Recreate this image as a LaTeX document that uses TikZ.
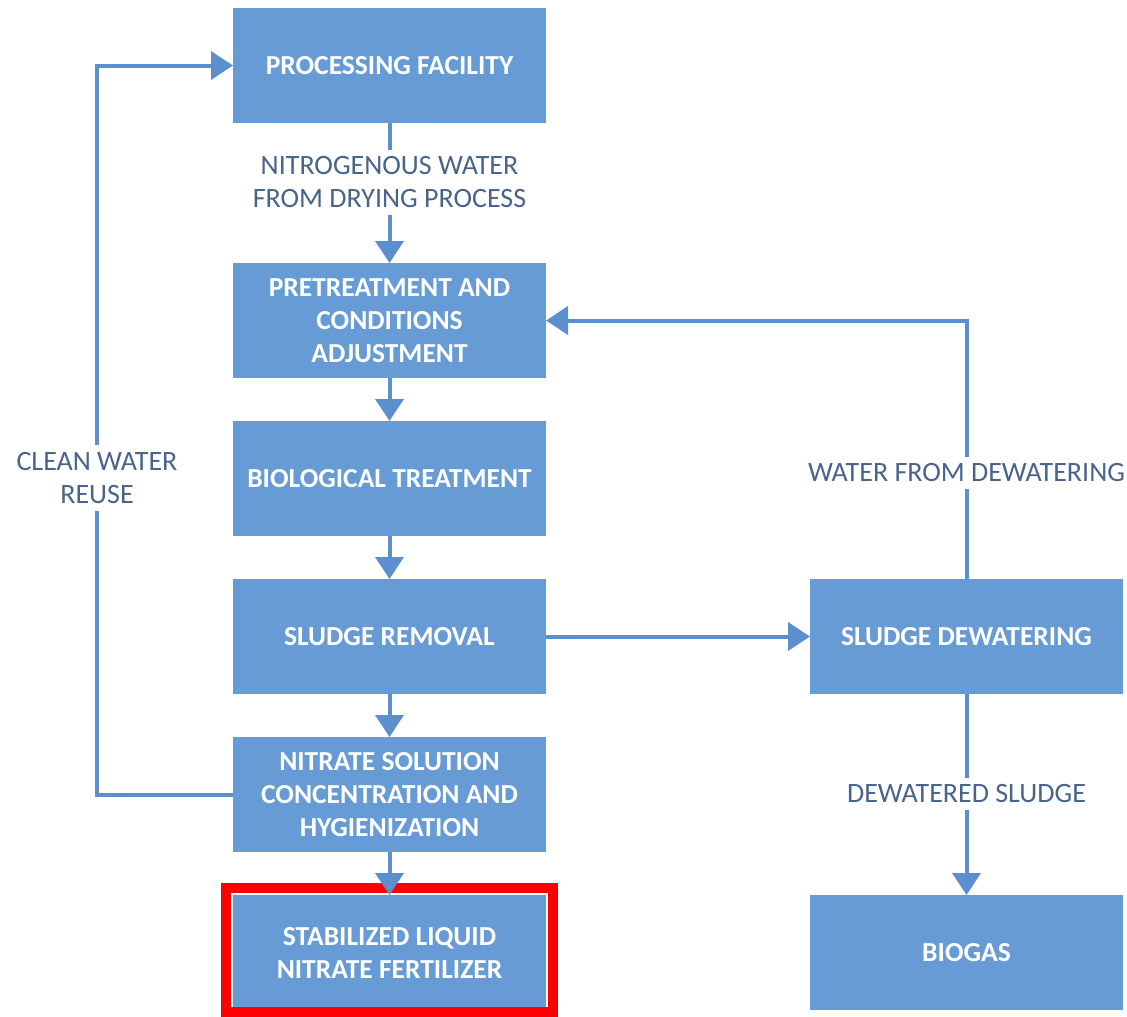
\documentclass[tikz,border=0pt]{standalone}
\usepackage{fontspec}
\setmainfont{Carlito}
\usetikzlibrary{arrows.meta}

\definecolor{boxblue}{RGB}{102,155,214}
\definecolor{lineblue}{RGB}{91,143,207}
\definecolor{labelblue}{RGB}{72,100,140}

\tikzset{every picture/.style={line width=4pt}}
\tikzset{
  procbox/.style={fill=boxblue, draw=none, minimum width=313pt, minimum height=115pt,
    text=white, align=center, font=\fontsize{27.5}{33}\selectfont\bfseries, inner sep=0pt, outer sep=0pt},
  flowlabel/.style={fill=white, text=labelblue, align=center, inner sep=5pt,
    font=\fontsize{28}{33}\selectfont},
  flow/.style={draw=lineblue, line width=4pt, -{Triangle[length=22pt,width=28pt]}},
  plain/.style={draw=lineblue, line width=4pt}
}

\begin{document}
\begin{tikzpicture}[x=1pt,y=1pt,yscale=-1,xscale=1]
\useasboundingbox (0,0) rectangle (1127,1017);

%Shape: Rectangle [id:facility]
\node [procbox] (facility) at (389.5,65.5) {PROCESSING FACILITY};
%Shape: Rectangle [id:pretreat]
\node [procbox] (pretreat) at (389.5,320.5) {PRETREATMENT AND\\CONDITIONS\\ADJUSTMENT};
%Shape: Rectangle [id:biotreat]
\node [procbox] (biotreat) at (389.5,478.5) {BIOLOGICAL TREATMENT};
%Shape: Rectangle [id:removal]
\node [procbox] (removal) at (389.5,636.5) {SLUDGE REMOVAL};
%Shape: Rectangle [id:nitrate]
\node [procbox] (nitrate) at (389.5,794.5) {NITRATE SOLUTION\\CONCENTRATION AND\\HYGIENIZATION};
%Shape: Rectangle [id:fertilizer]
\node [procbox] (fertilizer) at (389.5,952.5) {STABILIZED LIQUID\\NITRATE FERTILIZER};
%Shape: Rectangle [id:dewater]
\node [procbox] (dewater) at (966.5,636.5) {SLUDGE DEWATERING};
%Shape: Rectangle [id:biogas]
\node [procbox] (biogas) at (966.5,952.5) {BIOGAS};

%Shape: Rectangle [id:highlight]
\draw [red, line width=10pt] (226,888) rectangle (553,1012);

% Text Node
\node [flowlabel] (nitrowater) at (389.5,182.5) {NITROGENOUS WATER\\FROM DRYING PROCESS};
% Text Node
\node [flowlabel] (cleanwater) at (97,478) {CLEAN WATER\\REUSE};
% Text Node
\node [flowlabel] (dewaterwater) at (966.5,473) {WATER FROM DEWATERING};
% Text Node
\node [flowlabel] (dewsludge) at (966.5,794) {DEWATERED SLUDGE};

%Straight Lines [id:facility-pretreat]
\draw [plain] (facility) -- (nitrowater);
\draw [flow] (nitrowater) -- (pretreat);
%Straight Lines [id:chain]
\draw [flow] (pretreat) -- (biotreat);
\draw [flow] (biotreat) -- (removal);
\draw [flow] (removal) -- (nitrate);
\draw [flow] (nitrate) -- (fertilizer);
%Straight Lines [id:removal-dewater]
\draw [flow] (removal) -- (dewater);
%Straight Lines [id:dewater-biogas]
\draw [plain] (dewater) -- (dewsludge);
\draw [flow] (dewsludge) -- (biogas);
%Straight Lines [id:dewater-pretreat]
\draw [plain] (dewater) -- (dewaterwater);
\draw [flow] (dewaterwater) |- (pretreat);
%Straight Lines [id:nitrate-facility]
\draw [plain] (nitrate) -| (cleanwater);
\draw [flow] (cleanwater) |- (facility);

\end{tikzpicture}
\end{document}
